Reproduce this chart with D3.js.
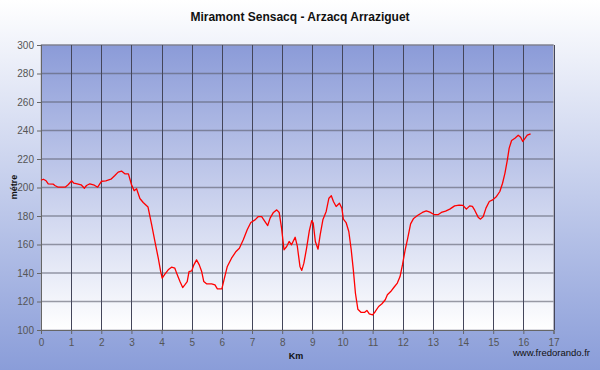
<!DOCTYPE html>
<html>
<head>
<meta charset="utf-8">
<script src="https://cdn.jsdelivr.net/npm/d3@7"></script>
<style>
body { margin: 0; }
svg { display: block; font-family: "Liberation Sans", Arial, sans-serif; }
</style>
</head>
<body>
<div id="chart"></div>
<script>
// profile data
var km = [0, 0.08, 0.17, 0.24, 0.41, 0.46, 0.57, 0.8, 0.9, 1.02, 1.09, 1.2, 1.33, 1.44, 1.51, 1.62, 1.77, 1.88,
  2.01, 2.15, 2.32, 2.45, 2.56, 2.67, 2.78, 2.9, 3.0, 3.09, 3.17, 3.28, 3.39, 3.55, 3.67, 3.78, 3.89, 3.97,
  4.02, 4.11, 4.22, 4.33, 4.44, 4.52, 4.61, 4.7, 4.77, 4.85, 4.91, 5.0, 5.07, 5.16, 5.25, 5.33, 5.4, 5.49,
  5.66, 5.77, 5.85, 6.0, 6.07, 6.18, 6.32, 6.47, 6.58, 6.71, 6.84, 6.96, 7.1, 7.21, 7.32, 7.43, 7.52, 7.6,
  7.71, 7.82, 7.9, 7.98, 8.06, 8.15, 8.23, 8.31, 8.43, 8.5, 8.59, 8.65, 8.72, 8.81, 8.9, 8.98, 9.03, 9.1,
  9.19, 9.26, 9.35, 9.46, 9.55, 9.63, 9.7, 9.79, 9.9, 9.98, 10.03, 10.12, 10.21, 10.29, 10.36, 10.43, 10.51,
  10.62, 10.73, 10.81, 10.89, 11.0, 11.09, 11.2, 11.31, 11.42, 11.49, 11.6, 11.71, 11.82, 11.91, 11.99, 12.08,
  12.16, 12.26, 12.36, 12.5, 12.65, 12.78, 12.9, 13.05, 13.18, 13.28, 13.42, 13.56, 13.72, 13.87, 14.0, 14.11,
  14.22, 14.31, 14.39, 14.5, 14.58, 14.67, 14.76, 14.87, 14.98, 15.11, 15.22, 15.31, 15.39, 15.47, 15.53,
  15.61, 15.72, 15.83, 15.91, 15.98, 16.06, 16.13, 16.24];
var metre = [205.1, 205.8, 204.7, 202.6, 202.3, 201.4, 200.2, 200.2, 201.9, 204.7, 203, 202.6, 201.9, 199.5, 201.4, 202.6, 201.6, 200.2,
  204.4, 204.7, 205.8, 208.4, 210.8, 211.5, 209.6, 209.6, 202.1, 197.7, 199.1, 192.3, 189.5, 186.3, 174, 162.1, 150.4, 141,
  136.4, 139.2, 142.2, 144.1, 143.4, 138.7, 134, 129.8, 131.7, 134, 141, 141.5, 145.7, 149.2, 145.7, 141, 134, 132.4,
  132.4, 131.7, 128.9, 128.9, 135.2, 144.6, 150.4, 155.1, 157.4, 163.3, 170.3, 175.4, 177.3, 179.6, 179.6, 176.1, 173.3, 178.5,
  182.5, 184.3, 182.5, 171.5, 156.3, 158.6, 162.1, 159.8, 165.1, 159.1, 144.6, 141.8, 146.9, 157.4, 169.5, 176.8, 175, 162.1,
  156.7, 166.8, 177.3, 183.2, 192.5, 194.2, 190.2, 186.7, 189, 185.5, 177.8, 175.4, 169.1, 156.3, 142.2, 125.8, 114.6,
  112.3, 112.3, 113.7, 111.3, 110.6, 113, 116.5, 118.4, 121.2, 124.7, 127, 130, 132.9, 137.5, 145.7, 156.3,
  164, 174.5, 178.3, 180.5, 182.5, 183.6, 182.7, 180.9, 181, 182.5, 183.4, 184.8, 187.1, 187.6, 187.4, 184.8,
  187.1, 186.7, 183.9, 179.2, 177.8, 179.6, 185.5, 190.2, 191.3, 193.7, 197.2, 203, 210.1, 219.4, 227.6,
  233, 234.6, 236.7, 235.3, 232.3, 234.6, 236.7, 237.7];

var xTicks = d3.range(0, 18);
var yTicks = d3.range(100, 301, 20);

const w = 600, h = 370;
const pLeft = 41, pTop = 45, pRight = 553.5, pBottom = 330;

const xScale = d3.scaleLinear().domain([0, 17]).range([pLeft, pRight]);
const yScale = d3.scaleLinear().domain([100, 300]).range([pBottom, pTop]);

const svg = d3.select("#chart").append("svg").attr("width", w).attr("height", h);
const defs = svg.append("defs");

const bg = defs.append("linearGradient").attr("id", "bg").attr("x1", 0).attr("y1", 0).attr("x2", 0).attr("y2", 1);
bg.append("stop").attr("offset", "0%").attr("stop-color", "#ffffff");
bg.append("stop").attr("offset", "100%").attr("stop-color", "#8a9dd9");

const pg = defs.append("linearGradient").attr("id", "pg").attr("x1", 0).attr("y1", 0).attr("x2", 0).attr("y2", 1);
pg.append("stop").attr("offset", "0%").attr("stop-color", "#8b9bd8");
pg.append("stop").attr("offset", "100%").attr("stop-color", "#ffffff");

svg.append("rect").attr("width", w).attr("height", h).attr("fill", "url(#bg)");
svg.append("rect").attr("x", pLeft).attr("y", pTop).attr("width", pRight - pLeft).attr("height", pBottom - pTop)
  .attr("fill", "url(#pg)").attr("stroke", "#b8b8c4").attr("stroke-width", 1);

// grid
svg.append("g").selectAll("line").data(yTicks.slice(1)).enter().append("line")
  .attr("x1", pLeft).attr("x2", pRight)
  .attr("y1", d => yScale(d)).attr("y2", d => yScale(d))
  .attr("stroke", "#5a5c6a").attr("stroke-opacity", 0.6).attr("stroke-width", 1.6);
svg.append("g").selectAll("line").data(xTicks).enter().append("line")
  .attr("y1", pTop).attr("y2", pBottom)
  .attr("x1", d => Math.round(xScale(d)) + 0.5).attr("x2", d => Math.round(xScale(d)) + 0.5)
  .attr("stroke", "#44465a").attr("stroke-width", 1);

// axes
const xAxis = d3.axisBottom(xScale).tickValues(xTicks).tickSize(4).tickPadding(5);
const yAxis = d3.axisLeft(yScale).tickValues(yTicks).tickSize(4).tickPadding(3);
const gx = svg.append("g").attr("transform", "translate(0," + pBottom + ")").call(xAxis);
const gy = svg.append("g").attr("transform", "translate(" + pLeft + ",0)").call(yAxis);
[gx, gy].forEach(function(g) {
  g.select(".domain").attr("stroke", "#666");
  g.selectAll(".tick line").attr("stroke", "#666");
  g.selectAll("text").attr("fill", "#555").style("font-size", "10px").style("font-family", "Liberation Sans, Arial, sans-serif");
});

// profile line
const line = d3.line().x((d, i) => xScale(km[i])).y(d => yScale(d));
svg.append("path").datum(metre).attr("d", line)
  .attr("fill", "none").attr("stroke", "#ff0000").attr("stroke-width", 1.3).attr("stroke-linejoin", "round");

// texts
svg.append("text").attr("x", 300).attr("y", 21).attr("text-anchor", "middle")
  .style("font-size", "12px").style("font-weight", "bold").attr("fill", "#111")
  .text("Miramont Sensacq - Arzacq Arraziguet");
svg.append("text").attr("transform", "translate(17,187) rotate(-90)").attr("text-anchor", "middle")
  .style("font-size", "9px").style("font-weight", "bold").attr("fill", "#111").text("métre");
svg.append("text").attr("x", 296).attr("y", 359).attr("text-anchor", "middle")
  .style("font-size", "9px").style("font-weight", "bold").attr("fill", "#111").text("Km");
svg.append("text").attr("x", 590).attr("y", 356).attr("text-anchor", "end")
  .style("font-size", "9.5px").attr("fill", "#111").text("www.fredorando.fr");
</script>
</body>
</html>
